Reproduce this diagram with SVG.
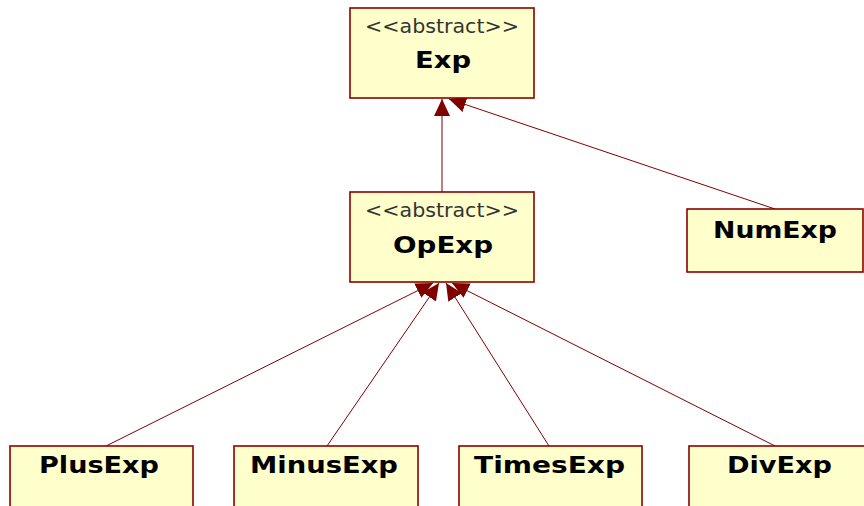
<svg xmlns="http://www.w3.org/2000/svg" width="864" height="506" viewBox="0 0 864 506">
<style>
.box{fill:#FFFFCC;stroke:#8B0000;stroke-width:1.6}
.st{font-family:"DejaVu Sans","Liberation Sans",sans-serif;font-size:19px;fill:#333333;text-anchor:middle}
.nm{font-family:"DejaVu Sans","Liberation Sans",sans-serif;font-size:23px;font-weight:bold;fill:#000000;text-anchor:middle}
.cn{stroke:#800000;stroke-width:1;fill:none;marker-end:url(#tri)}
</style>
<defs>
<marker id="tri" viewBox="0 -8 17 16" refX="17" refY="0" markerWidth="17" markerHeight="16" markerUnits="userSpaceOnUse" orient="auto">
<path d="M0,-8 L17,0 L0,8 z" fill="#800000"/>
</marker>
</defs>
<rect width="864" height="506" fill="#ffffff"/>
<g id="connectors">
<line class="cn" x1="442" y1="192" x2="442" y2="99"/>
<line class="cn" x1="775" y1="209" x2="449" y2="99"/>
<line class="cn" x1="106" y1="446" x2="433" y2="283"/>
<line class="cn" x1="327" y1="446" x2="439" y2="283"/>
<line class="cn" x1="549" y1="446" x2="446" y2="283"/>
<line class="cn" x1="775" y1="446" x2="452" y2="283"/>
</g>
<g id="Exp">
<rect class="box" x="350" y="8" width="184" height="90"/>
<text class="st" x="442" y="33" textLength="154" lengthAdjust="spacingAndGlyphs">&lt;&lt;abstract&gt;&gt;</text>
<text class="nm" x="443" y="68" textLength="56" lengthAdjust="spacingAndGlyphs">Exp</text>
</g>
<g id="OpExp">
<rect class="box" x="350" y="192" width="184" height="90"/>
<text class="st" x="442" y="217" textLength="154" lengthAdjust="spacingAndGlyphs">&lt;&lt;abstract&gt;&gt;</text>
<text class="nm" x="443" y="253" textLength="100" lengthAdjust="spacingAndGlyphs">OpExp</text>
</g>
<g id="NumExp">
<rect class="box" x="687" y="209" width="176" height="63"/>
<text class="nm" x="775" y="238" textLength="124" lengthAdjust="spacingAndGlyphs">NumExp</text>
</g>
<g id="PlusExp">
<rect class="box" x="10" y="446" width="183" height="70"/>
<text class="nm" x="99" y="473" textLength="120" lengthAdjust="spacingAndGlyphs">PlusExp</text>
</g>
<g id="MinusExp">
<rect class="box" x="234" y="446" width="184" height="70"/>
<text class="nm" x="324" y="473" textLength="148" lengthAdjust="spacingAndGlyphs">MinusExp</text>
</g>
<g id="TimesExp">
<rect class="box" x="459" y="446" width="183" height="70"/>
<text class="nm" x="549.5" y="473" textLength="151" lengthAdjust="spacingAndGlyphs">TimesExp</text>
</g>
<g id="DivExp">
<rect class="box" x="689" y="446" width="184" height="70"/>
<text class="nm" x="779.5" y="473" textLength="105" lengthAdjust="spacingAndGlyphs">DivExp</text>
</g>
</svg>
